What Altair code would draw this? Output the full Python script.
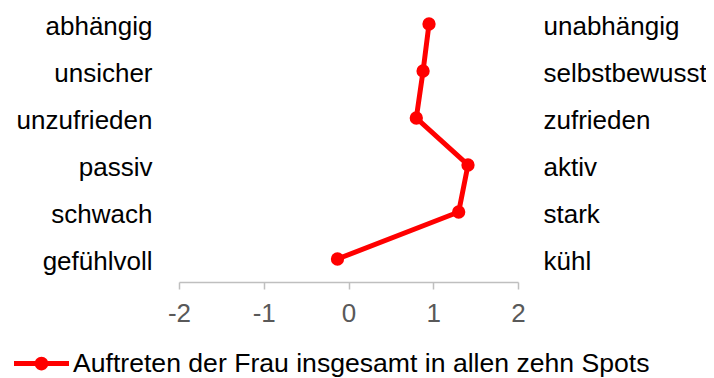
import altair as alt
import pandas as pd

left_labels = ["abhängig", "unsicher", "unzufrieden", "passiv", "schwach", "gefühlvoll"]
right_labels = ["unabhängig", "selbstbewusst", "zufrieden", "aktiv", "stark", "kühl"]
values = [0.95, 0.88, 0.80, 1.41, 1.30, -0.13]
series_name = "Auftreten der Frau insgesamt in allen zehn Spots"
x_ticks = [-2, -1, 0, 1, 2]

df = pd.DataFrame({
    "left": left_labels,
    "right": right_labels,
    "value": values,
    "idx": list(range(len(values))),
    "series": [series_name] * len(values),
})

RED = "#ff0000"
FONT = "Liberation Sans"
W, H = 339, 274

x_enc = alt.X(
    "value:Q",
    scale=alt.Scale(domain=[-2, 2], nice=False, zero=False),
    axis=alt.Axis(
        values=x_ticks, title=None, grid=False, domainColor="#bfbfbf",
        domainWidth=1.5, tickColor="#bfbfbf", tickWidth=1.5, tickSize=7,
        labelColor="#595959", labelFontSize=26, labelFont=FONT,
        labelPadding=11, labelExpr="datum.value + ''",
        labelFlush=False, labelOverlap=False, labelBound=False,
    ),
)

y_left = alt.Y(
    "left:N", sort=left_labels,
    scale=alt.Scale(type="point", range=[16, 251], padding=0),
    axis=alt.Axis(
        title=None, domain=False, ticks=False, tickSize=0, labelPadding=27,
        labelFontSize=26, labelFont=FONT, labelColor="#000000", labelOffset=2,
        orient="left", labelLimit=1000,
    ),
)

y_right = alt.Y(
    "right:N", sort=right_labels,
    scale=alt.Scale(type="point", range=[16, 251], padding=0),
    axis=alt.Axis(
        title=None, domain=False, ticks=False, tickSize=0, labelPadding=25,
        labelFontSize=26, labelFont=FONT, labelColor="#000000", labelOffset=2,
        labelAlign="left", orient="right", labelLimit=1000,
    ),
)

legend_path = (
    "M-1,-0.09L1,-0.09L1,0.09L-1,0.09Z "
    "M-0.25,0A0.25,0.25,0,1,1,0.25,0A0.25,0.25,0,1,1,-0.25,0Z"
)

# legend-only layer (its small points are hidden under the real ones)
legend_layer = alt.Chart(df).mark_point(filled=True).encode(
    x=x_enc,
    y=y_left,
    color=alt.Color(
        "series:N",
        scale=alt.Scale(range=[RED]),
        legend=alt.Legend(
            title=None, orient="none", legendX=-165, legendY=328,
            symbolType=legend_path, symbolSize=3025, symbolStrokeWidth=0,
            symbolFillColor=RED, symbolOpacity=1, labelFontSize=26.6,
            labelFont=FONT, labelColor="#000000", labelOffset=4, padding=0,
            labelLimit=1000,
        ),
    ),
)

line = alt.Chart(df).mark_line(color=RED, strokeWidth=5).encode(
    x=x_enc, y=y_left, order=alt.Order("idx:Q")
)

points = alt.Chart(df).mark_point(
    filled=True, size=177, opacity=1, color=RED
).encode(x=x_enc, y=y_left)

left_layer = alt.layer(legend_layer, line, points)

right_layer = alt.Chart(df).mark_point(opacity=0).encode(x=x_enc, y=y_right)

chart = (
    alt.layer(left_layer, right_layer)
    .resolve_scale(y="independent")
    .properties(
        width=W, height=H,
        autosize=alt.AutoSizeParams(type="none"),
        padding={"left": 171, "top": 0, "right": 188, "bottom": 96},
    )
    .configure_view(stroke=None)
)

chart.save("out.html", embed_options={"renderer": "svg", "actions": False})
